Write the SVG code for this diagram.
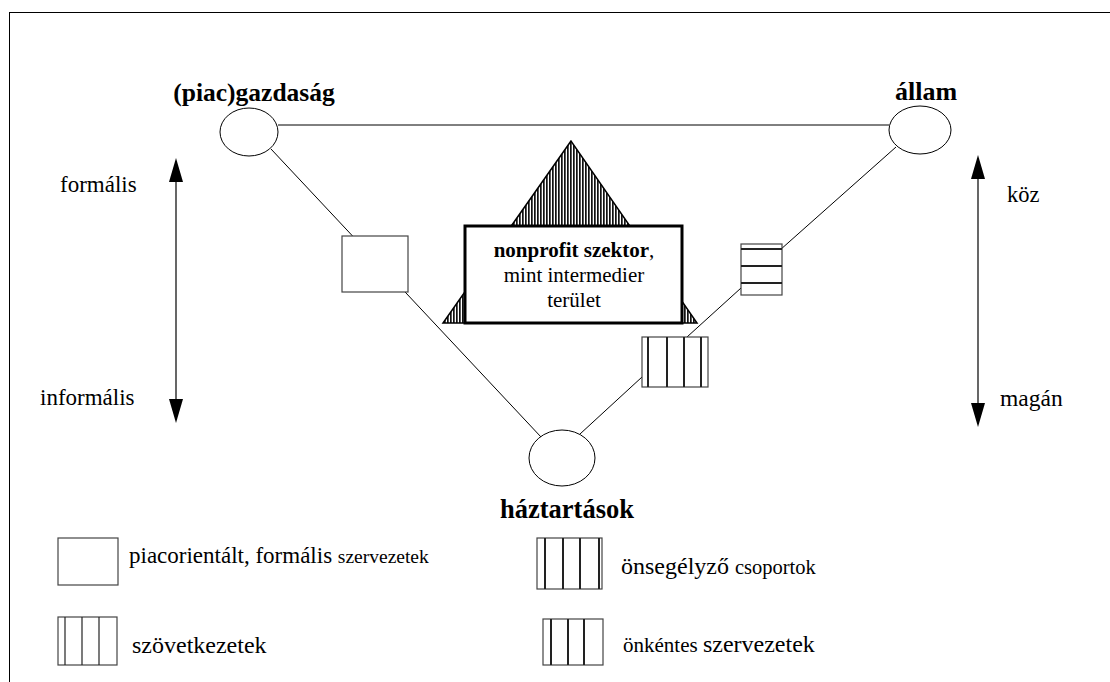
<svg xmlns="http://www.w3.org/2000/svg" width="1110" height="682" viewBox="0 0 1110 682">
<defs>
<style>
.t{font-family:"Liberation Serif","Times New Roman",serif;fill:#000}
.b{font-weight:bold}
.ln{stroke:#000;stroke-width:1;fill:none}
.box{fill:#fff;stroke:#444;stroke-width:1.2}
.st{stroke:#222;stroke-width:2}
.sl{stroke:#222;stroke-width:1.2}
.ell{fill:#fff;stroke:#000;stroke-width:1}
.ar{fill:#000}
</style>
<pattern id="hatch" width="3" height="10" patternUnits="userSpaceOnUse">
<rect width="3" height="10" fill="#fff"/>
<rect width="1.7" height="10" fill="#111"/>
</pattern>
</defs>
<rect x="9.5" y="12.5" width="1120" height="700" fill="none" stroke="#000" stroke-width="1"/>

<g id="connectors">
<line class="ln" x1="278" y1="125" x2="889" y2="125"/>
<line class="ln" x1="271" y1="149" x2="541" y2="437"/>
<line class="ln" x1="896" y1="147" x2="780" y2="250"/>
<line class="ln" x1="741" y1="288" x2="687" y2="337"/>
<line class="ln" x1="642" y1="377" x2="580" y2="434"/>
<line stroke="#000" stroke-width="1.2" x1="176" y1="175" x2="176" y2="405"/>
<polygon class="ar" points="176,158 169,182 183,182"/>
<polygon class="ar" points="176,423 169,399 183,399"/>
<line stroke="#000" stroke-width="1.2" x1="978" y1="172" x2="978" y2="410"/>
<polygon class="ar" points="978,155 971,179 985,179"/>
<polygon class="ar" points="978,427 971,403 985,403"/>
</g>

<g id="node-piacgazdasag">
<ellipse class="ell" cx="249" cy="132" rx="29" ry="24"/>
<text class="t b" x="254" y="101" font-size="25.5" text-anchor="middle">(piac)gazdaság</text>
</g>
<g id="node-allam">
<ellipse class="ell" cx="920" cy="130" rx="31" ry="24"/>
<text class="t b" x="926" y="100" font-size="26" text-anchor="middle">állam</text>
</g>
<g id="node-haztartasok">
<ellipse class="ell" cx="562" cy="458" rx="33" ry="28"/>
<text class="t b" x="567" y="518" font-size="26.5" text-anchor="middle">háztartások</text>
</g>

<g id="node-nonprofit">
<polygon points="571,141 443,323 697,323" fill="url(#hatch)" stroke="#000" stroke-width="1.5"/>
<rect x="465" y="226" width="217" height="97" fill="#fff" stroke="#000" stroke-width="3"/>
<text class="t" x="574" y="257" font-size="21" text-anchor="middle"><tspan class="b">nonprofit szektor</tspan>,</text>
<text class="t" x="574" y="282" font-size="21" text-anchor="middle">mint intermedier</text>
<text class="t" x="574" y="307" font-size="21" text-anchor="middle">terület</text>
</g>

<g id="node-box-left">
<rect class="box" x="342" y="236" width="66" height="56"/>
</g>
<g id="node-box-horizontal">
<rect class="box" x="741" y="244" width="41" height="51"/>
<line class="st" x1="741" y1="249" x2="782" y2="249"/>
<line class="st" x1="741" y1="266" x2="782" y2="266"/>
<line class="st" x1="741" y1="283" x2="782" y2="283"/>
</g>
<g id="node-box-vertical">
<rect class="box" x="642" y="337" width="66" height="50"/>
<line class="st" x1="648" y1="337" x2="648" y2="387"/>
<line class="st" x1="667" y1="337" x2="667" y2="387"/>
<line class="st" x1="684" y1="337" x2="684" y2="387"/>
<line class="st" x1="701" y1="337" x2="701" y2="387"/>
</g>

<g id="label-formalis">
<text class="t" x="60" y="192" font-size="23">formális</text>
</g>
<g id="label-informalis">
<text class="t" x="40" y="405" font-size="23">informális</text>
</g>
<g id="label-koz">
<text class="t" x="1007" y="202" font-size="22.5">köz</text>
</g>
<g id="label-magan">
<text class="t" x="1000" y="406" font-size="23.5">magán</text>
</g>

<g id="legend-1">
<rect class="box" x="58" y="538" width="60" height="47"/>
<text class="t" x="129" y="563" font-size="23">piacorientált, formális <tspan font-size="19.5">szervezetek</tspan></text>
</g>
<g id="legend-2">
<rect class="box" x="58" y="617" width="59" height="48"/>
<line class="sl" x1="65" y1="617" x2="65" y2="665"/>
<line class="sl" x1="82" y1="617" x2="82" y2="665"/>
<line class="sl" x1="99" y1="617" x2="99" y2="665"/>
<text class="t" x="132" y="653" font-size="24">szövetkezetek</text>
</g>
<g id="legend-3">
<rect class="box" x="537" y="538" width="65" height="51"/>
<line class="st" x1="545" y1="538" x2="545" y2="589"/>
<line class="st" x1="563" y1="538" x2="563" y2="589"/>
<line class="st" x1="580" y1="538" x2="580" y2="589"/>
<line class="st" x1="599" y1="538" x2="599" y2="589"/>
<text class="t" x="621" y="574" font-size="24">önsegélyző <tspan font-size="20.5">csoportok</tspan></text>
</g>
<g id="legend-4">
<rect class="box" x="543" y="619" width="60" height="46"/>
<line class="st" x1="551" y1="619" x2="551" y2="665"/>
<line class="st" x1="568" y1="619" x2="568" y2="665"/>
<line class="st" x1="584" y1="619" x2="584" y2="665"/>
<text class="t" x="623" y="652" font-size="21">önkéntes <tspan font-size="24">szervezetek</tspan></text>
</g>
</svg>
